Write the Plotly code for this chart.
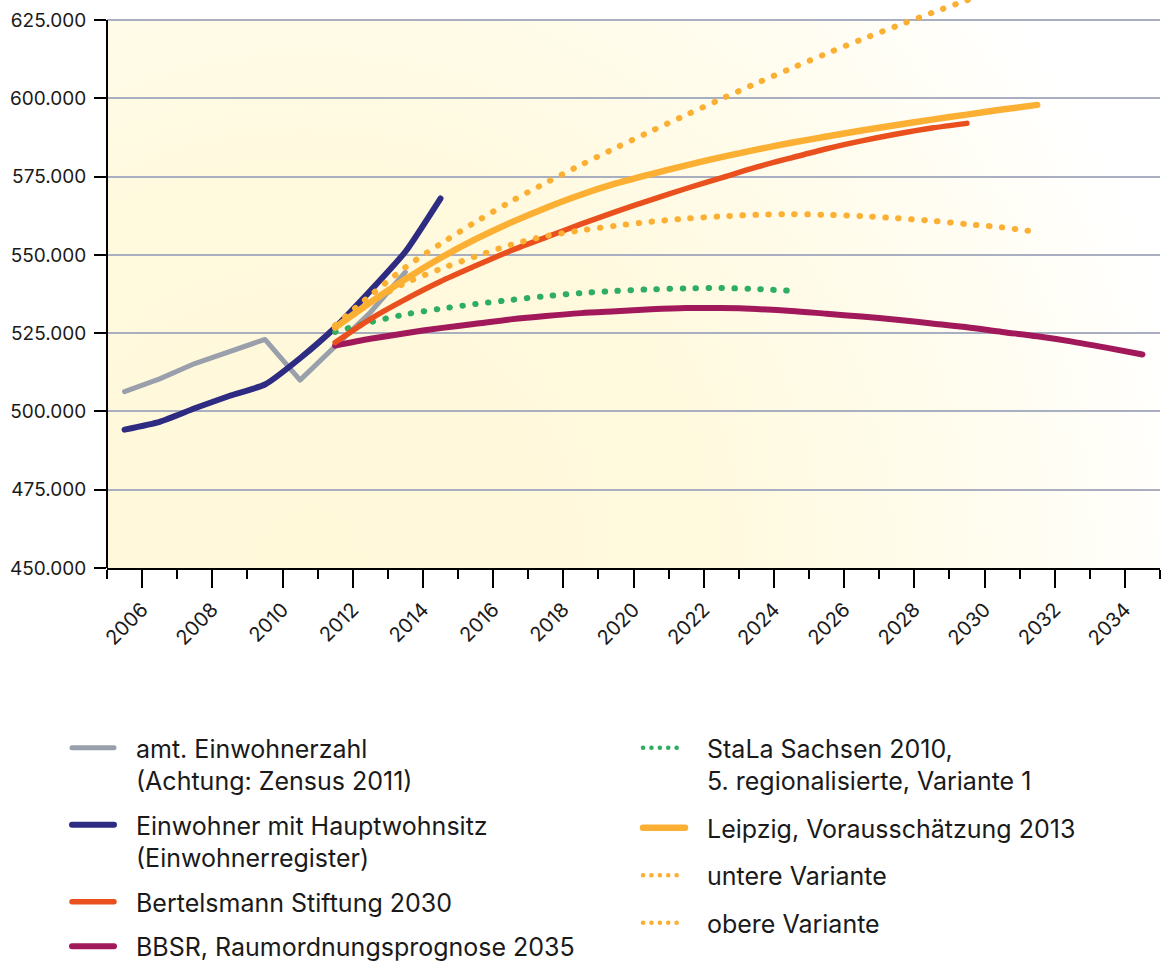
import base64
import plotly.graph_objects as go

# ---------------- data ----------------
hist_years = [2005.5, 2006.5, 2007.5, 2008.5, 2009.5, 2010.5, 2011.5, 2012.5, 2013.5]
amt_einwohnerzahl = [506300, 510400, 515300, 519000, 523000, 510000, 520800, 531600, 544500]

register_years = [2005.5, 2006.5, 2007.5, 2008.5, 2009.5, 2010.5, 2011.5, 2012.5, 2013.5, 2014.5]
einwohner_hws = [494200, 496700, 501000, 505000, 508600, 517000, 526800, 538500, 551000, 568000]

proj_years = [2011.5, 2012.5, 2013.5, 2014.5, 2015.5, 2016.5, 2017.5, 2018.5, 2019.5, 2020.5,
              2021.5, 2022.5, 2023.5, 2024.5, 2025.5, 2026.5, 2027.5, 2028.5, 2029.5, 2030.5,
              2031.5, 2032.5, 2033.5, 2034.5]

bertelsmann = [522000, 529500, 535800, 541500, 546500, 551300, 555600, 559800, 563800, 567600,
               571200, 574600, 578000, 581000, 583900, 586400, 588600, 590500, 592000]

bbsr = [521000, 523200, 525000, 526600, 528000, 529400, 530500, 531400, 532000, 532600,
        533000, 533000, 532700, 532100, 531200, 530300, 529300, 528100, 526900, 525400,
        524000, 522300, 520300, 518200]

stala = [525400, 528500, 531000, 532800, 534300, 535600, 536800, 537800, 538500, 539000,
         539300, 539400, 539100, 538500]

leipzig_2013 = [526800, 534800, 542200, 549000, 555000, 560300, 565000, 569200, 572800, 575800,
                578600, 581200, 583600, 585800, 587800, 589700, 591500, 593200, 594800, 596400,
                597900]

untere_variante = [527000, 534800, 541000, 545500, 549500, 553200, 556000, 557800, 559300, 560600,
                   561600, 562300, 562800, 563000, 562800, 562400, 561700, 560900, 559800, 558800,
                   557300]

obere_variante = [527500, 537000, 546000, 553500, 560500, 567000, 573000, 578700, 584200, 589500,
                  594700, 599800, 604800, 609600, 614300, 618800, 623100, 627300, 631300, 635100,
                  638800]

y_ticks = [450000, 475000, 500000, 525000, 550000, 575000, 600000, 625000]

# ---------------- styling ----------------
FONT = "Inter"
TXT = "#1a1a1a"
C_GRAY = "#9AA0AB"
C_BLUE = "#2E2C82"
C_ORANGE = "#FBB034"
C_RED = "#E9501E"
C_MAGENTA = "#A1195A"
C_GREEN = "#2DAE62"
DOTS = "0.5px,12.5px"

fig = go.Figure()


def add(x, y, name, color, width, legend, rank, dash="solid", shape="spline", smoothing=0.8):
    fig.add_trace(go.Scatter(
        x=x, y=y, name=name, mode="lines",
        line=dict(color=color, width=width, dash=dash, shape=shape,
                  smoothing=smoothing if shape == "spline" else None),
        legend=legend, legendrank=rank, legendgroup=name,
        hoverinfo="skip"))


n = len
add(hist_years, amt_einwohnerzahl, "amt. Einwohnerzahl<br>(Achtung: Zensus 2011)", C_GRAY, 5,
    "legend", 1, shape="linear")
add(register_years, einwohner_hws, "Einwohner mit Hauptwohnsitz<br>(Einwohnerregister)", C_BLUE, 6,
    "legend", 2, smoothing=0.5)
add(proj_years[:n(bbsr)], bbsr, "BBSR, Raumordnungsprognose 2035", C_MAGENTA, 6, "legend", 4)
add(proj_years[:n(stala)], stala, "StaLa Sachsen 2010,<br>5. regionalisierte, Variante 1", C_GREEN, 6,
    "legend2", 1, dash=DOTS)
add(proj_years[:n(bertelsmann)], bertelsmann, "Bertelsmann Stiftung 2030", C_RED, 5.5, "legend", 3)
add(proj_years[:n(untere_variante)], untere_variante, "untere Variante", C_ORANGE, 6, "legend2", 3,
    dash=DOTS)
add(proj_years[:n(obere_variante)], obere_variante, "obere Variante", C_ORANGE, 6, "legend2", 4,
    dash=DOTS)
add(proj_years[:n(leipzig_2013)], leipzig_2013, "Leipzig, Vorausschätzung 2013", C_ORANGE, 6.5,
    "legend2", 2)

# soft yellow background gradient of the plot area
svg = (
    '<svg xmlns="http://www.w3.org/2000/svg" width="1053" height="548" viewBox="0 0 1053 548" '
    'preserveAspectRatio="none"><defs><radialGradient id="g" gradientUnits="userSpaceOnUse" '
    'cx="200" cy="548" r="1000">'
    '<stop offset="0" stop-color="#FFF8D9"/>'
    '<stop offset="0.4" stop-color="#FFF9DE"/>'
    '<stop offset="0.7" stop-color="#FFFDF0"/>'
    '<stop offset="0.9" stop-color="#FFFFFF"/>'
    '</radialGradient></defs><rect width="1053" height="548" fill="url(#g)"/></svg>'
)
src = "data:image/svg+xml;base64," + base64.b64encode(svg.encode()).decode()

LEG_FONT = dict(size=25, family=FONT, color=TXT)
IW = 42
PLOT_L, PLOT_W, PLOT_B, PLOT_H = 107, 1053, 568, 568
leg_top = 725

fig.update_layout(
    width=1161, height=961,
    margin=dict(l=107, r=1, t=0, b=393, pad=0, autoexpand=False),
    paper_bgcolor="white", plot_bgcolor="white",
    separators=",.",
    font=dict(family=FONT, color=TXT, size=19),
    images=[dict(source=src, xref="x", yref="y", x=2005, y=625000, sizex=30, sizey=175000,
                 sizing="stretch", layer="below", xanchor="left", yanchor="top")],
    shapes=[dict(type="line", xref="paper", yref="y", x0=0, x1=0, y0=450000, y1=625000,
                 line=dict(color="black", width=2), layer="above")],
    xaxis=dict(range=[2005, 2035], tickmode="linear", tick0=2006, dtick=2,
               ticks="outside", ticklen=18, tickwidth=2, tickcolor="black",
               showline=True, linecolor="black", linewidth=2, showgrid=False, zeroline=False,
               tickangle=-45, tickfont=dict(size=20, family=FONT, color=TXT), automargin=False,
               ticklabelstandoff=2,
               minor=dict(tick0=2005, dtick=1, ticks="outside", ticklen=9, tickwidth=2,
                          tickcolor="black", showgrid=False)),
    yaxis=dict(range=[450000, 631400], tickmode="array", tickvals=y_ticks, tickformat=",d",
               ticks="outside", ticklen=12, tickwidth=2, tickcolor="black",
               showline=False, showgrid=True, gridcolor="#A9AFC1", gridwidth=1.5,
               zeroline=False, tickfont=dict(size=19, family=FONT, color=TXT),
               ticklabelstandoff=4, automargin=False),
    legend=dict(x=(137 - IW - 11 - PLOT_L) / PLOT_W, y=-(leg_top - PLOT_B) / PLOT_H,
                xanchor="left", yanchor="top", bgcolor="rgba(0,0,0,0)", valign="top",
                font=LEG_FONT, tracegroupgap=9, traceorder="grouped", itemwidth=IW),
    legend2=dict(x=(708 - IW - 11 - PLOT_L) / PLOT_W, y=-(leg_top - PLOT_B) / PLOT_H,
                 xanchor="left", yanchor="top", bgcolor="rgba(0,0,0,0)", valign="top",
                 font=LEG_FONT, tracegroupgap=12, traceorder="grouped", itemwidth=IW),
    showlegend=True,
)

# round line caps (dotted lines become round dots); legend symbols moved left so that
# a gap remains between symbol and text, as in the original; smaller legend dots
css = ("body{margin:0;overflow:hidden}"
       ".js-line{stroke-linecap:round;stroke-linejoin:round}"
       ".infolayer g[clip-path]{clip-path:none !important}"
       ".infolayer path.js-line{transform:translateX(-17px)}"
       ".infolayer path.js-line[style*=\"12.5px\"]{stroke-dasharray:0.1px,8.3px !important;"
       "stroke-width:4.5px !important}")
post = ("var s=document.createElement('style');"
        "s.textContent=" + repr(css) + ";"
        "document.head.appendChild(s);")
fig.write_html("out.html", post_script=post, config={"displayModeBar": False})
